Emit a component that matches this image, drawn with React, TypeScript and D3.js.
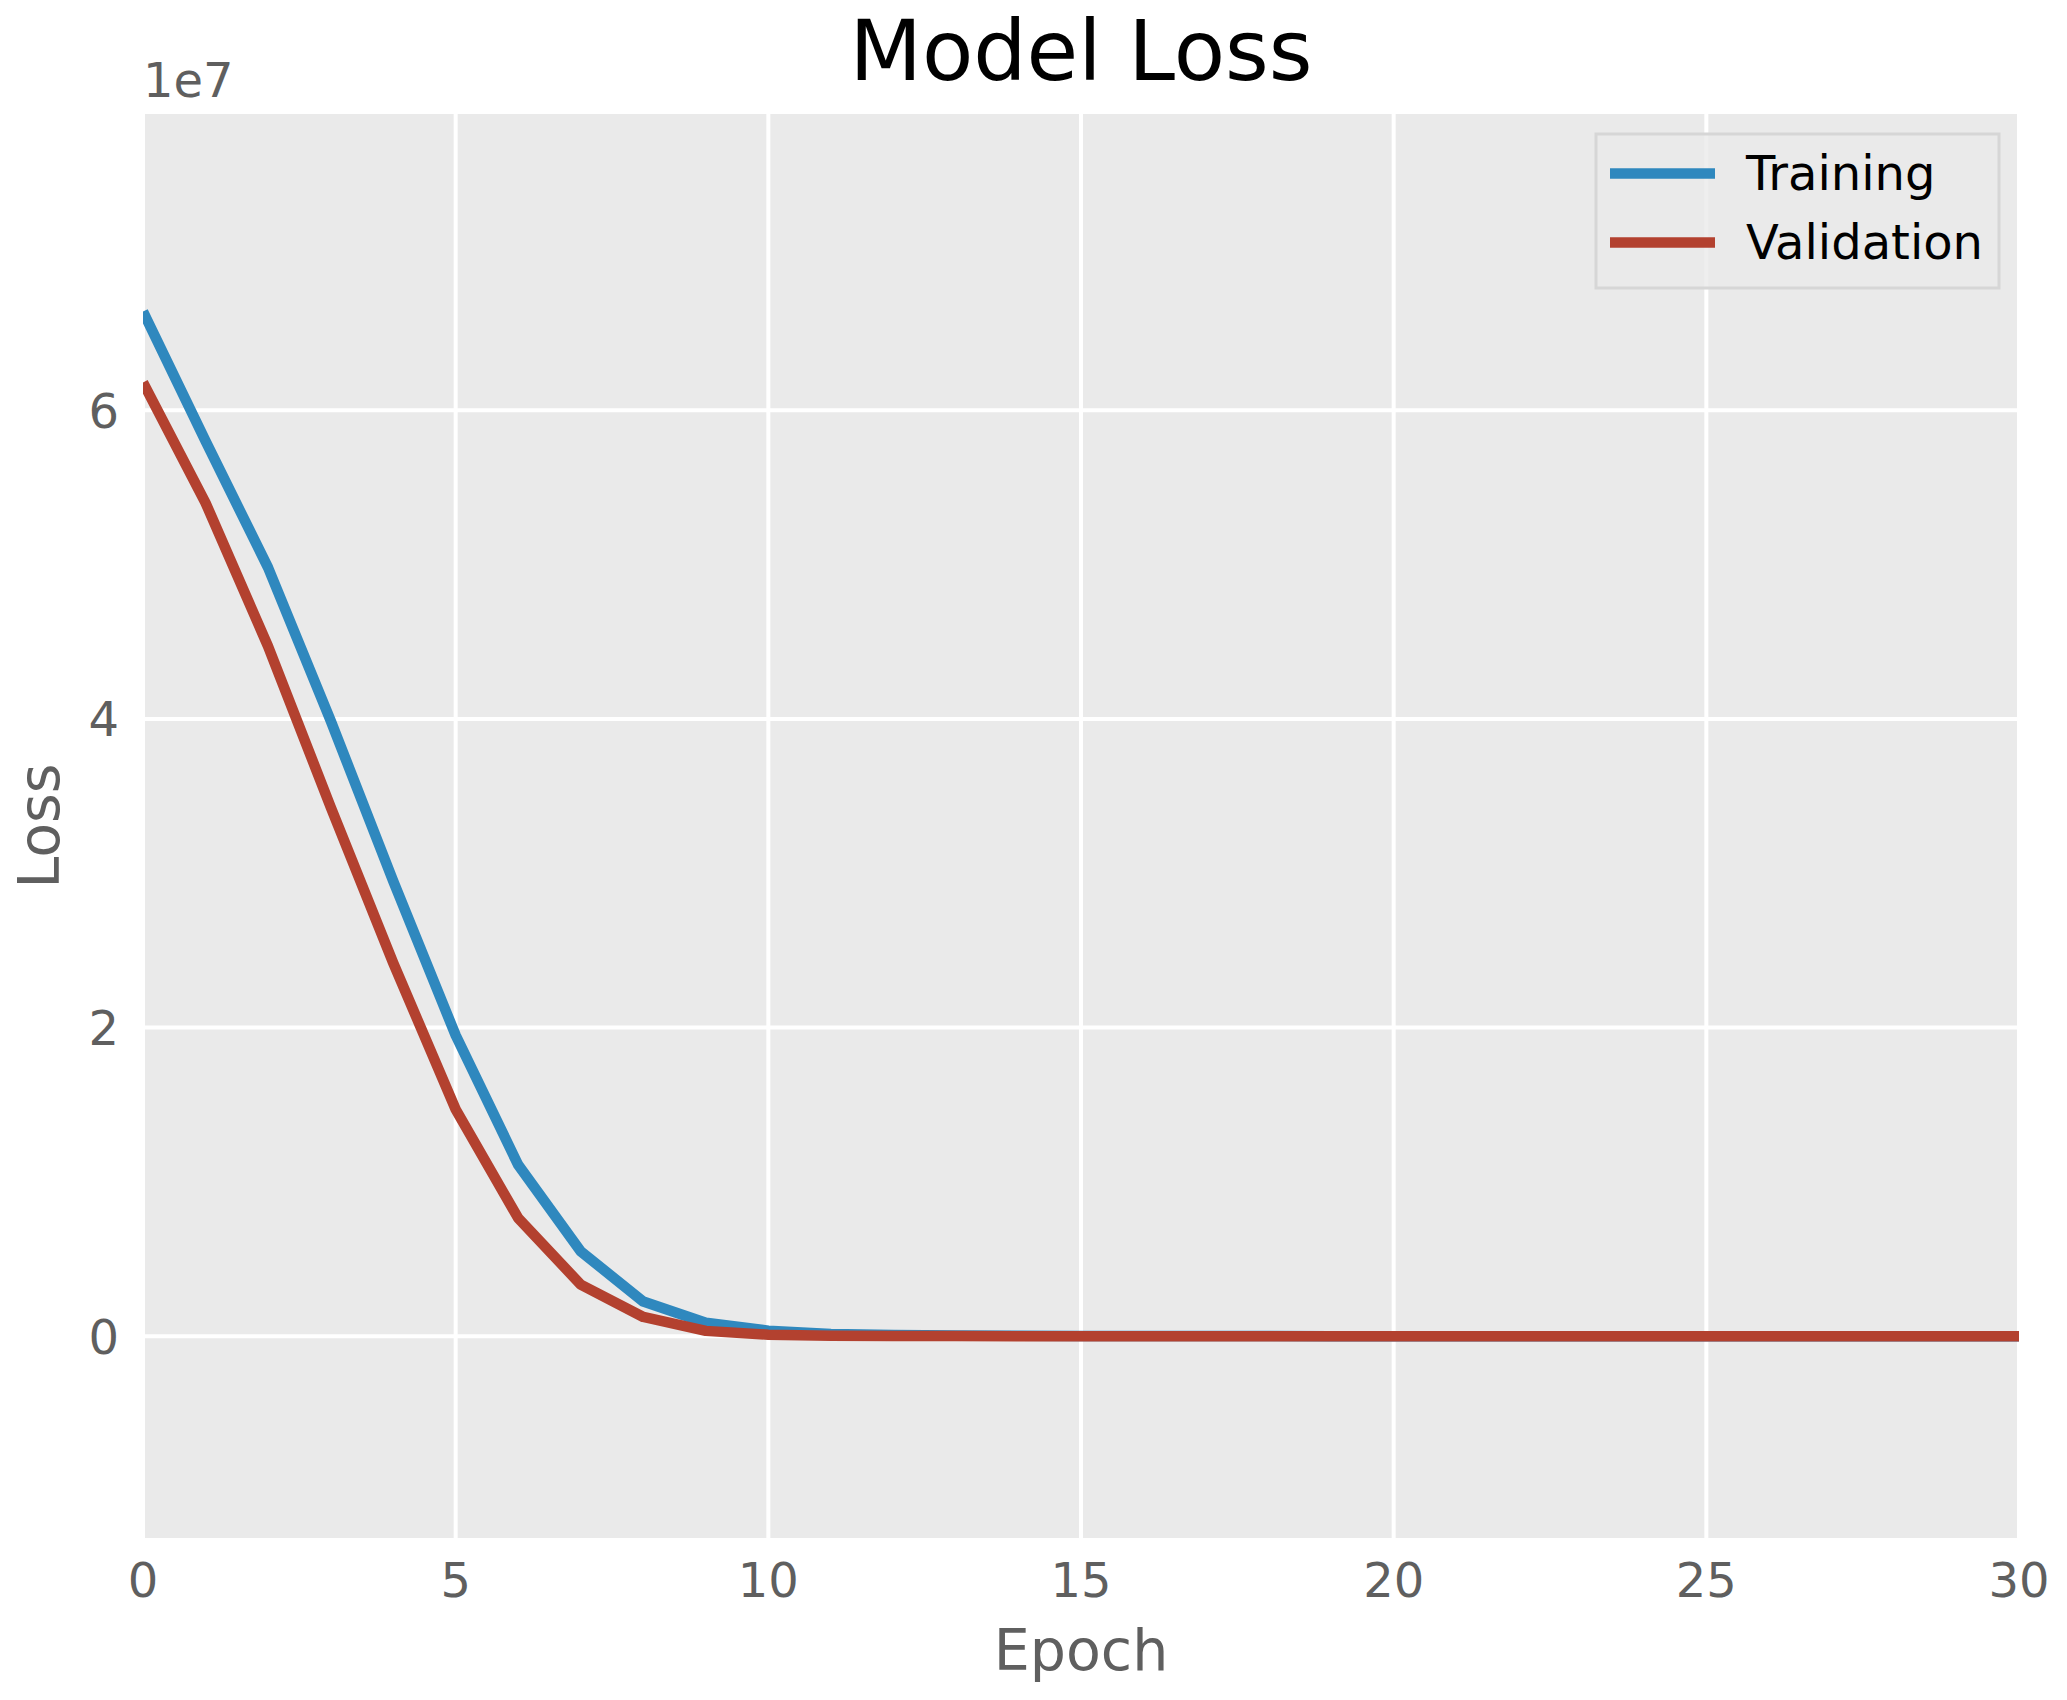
import React from "react";
import * as d3 from "d3";

const epochs = [0,1,2,3,4,5,6,7,8,9,10,11,12,13,14,15,16,17,18,19,20,21,22,23,24,25,26,27,28,29,30];
const trainingLoss = [6.64e7,5.80e7,4.98e7,3.99e7,2.95e7,1.95e7,1.11e7,5.5e6,2.25e6,8.8e5,3.6e5,1.5e5,8e4,5e4,3e4,2e4,1.5e4,1.2e4,1e4,9e3,8e3,7e3,6e3,5e3,5e3,4e3,4e3,3e3,3e3,3e3,2e3];
const validationLoss = [6.18e7,5.40e7,4.47e7,3.43e7,2.42e7,1.47e7,7.65e6,3.35e6,1.25e6,3.5e5,1e5,4e4,2e4,1e4,7e3,5e3,4e3,3e3,3e3,2e3,2e3,2e3,2e3,1e3,1e3,1e3,1e3,1e3,1e3,1e3,1e3];
const xTicks = [0,5,10,15,20,25,30];
const yTicks = [0,2e7,4e7,6e7];
const seriesNames = ["Training","Validation"];
const seriesColors = ["#2F88BE","#B3412F"];

const W = 2067, H = 1700;
const L = 143, R = 2019, T = 114, B = 1538;
const FONT = "'DejaVu Sans', Verdana, sans-serif";

export default function App() {
  const x = d3.scaleLinear().domain([0, 30]).range([L, R]);
  const y = d3.scaleLinear().domain([-1.307e7, 7.919e7]).range([B, T]);
  const line = d3.line<number>().x((_, i) => x(epochs[i])).y(d => y(d));
  const series = [trainingLoss, validationLoss];
  return (
    <svg width={W} height={H} style={{ position: "absolute", left: 0, top: 0, background: "#fff" }} fontFamily={FONT}>
      <defs>
        <clipPath id="plotclip"><rect x={L} y={T} width={R - L} height={B - T} /></clipPath>
      </defs>
      <rect x={L} y={T} width={R - L} height={B - T} fill="#EAEAEA" />
      {xTicks.map(t => (
        <line key={"gx" + t} x1={x(t)} x2={x(t)} y1={T} y2={B} stroke="#fff" strokeWidth={4} />
      ))}
      {yTicks.map(t => (
        <line key={"gy" + t} x1={L} x2={R} y1={y(t)} y2={y(t)} stroke="#fff" strokeWidth={4} />
      ))}
      <g clipPath="url(#plotclip)">
        {series.map((s, i) => (
          <path key={i} d={line(s) || ""} fill="none" stroke={seriesColors[i]} strokeWidth={10.5} strokeLinejoin="round" strokeLinecap="butt" />
        ))}
      </g>
      {xTicks.map(t => (
        <text key={"tx" + t} x={x(t)} y={1597} textAnchor="middle" fontSize={48} fill="#5f5f5f">{t}</text>
      ))}
      {yTicks.map(t => (
        <text key={"ty" + t} x={119} y={y(t) + 17.5} textAnchor="end" fontSize={48} fill="#5f5f5f">{t / 1e7}</text>
      ))}
      <text x={143} y={97} fontSize={48} fill="#5f5f5f">1e7</text>
      <text x={(L + R) / 2} y={80} textAnchor="middle" fontSize={84} fill="#000">Model Loss</text>
      <text x={(L + R) / 2} y={1670} textAnchor="middle" fontSize={57} fill="#5f5f5f">Epoch</text>
      <text transform={`translate(59,${(T + B) / 2}) rotate(-90)`} textAnchor="middle" fontSize={57} fill="#5f5f5f">Loss</text>
      <g>
        <rect x={1596} y={134} width={403} height={154} fill="#EAEAEA" fillOpacity={0.8} stroke="#D6D6D6" strokeWidth={3} />
        {seriesNames.map((n, i) => (
          <g key={n}>
            <line x1={1610} x2={1715} y1={173.5 + i * 69} y2={173.5 + i * 69} stroke={seriesColors[i]} strokeWidth={10.5} />
            <text x={1746} y={190 + i * 69} fontSize={48} fill="#000">{n}</text>
          </g>
        ))}
      </g>
    </svg>
  );
}
